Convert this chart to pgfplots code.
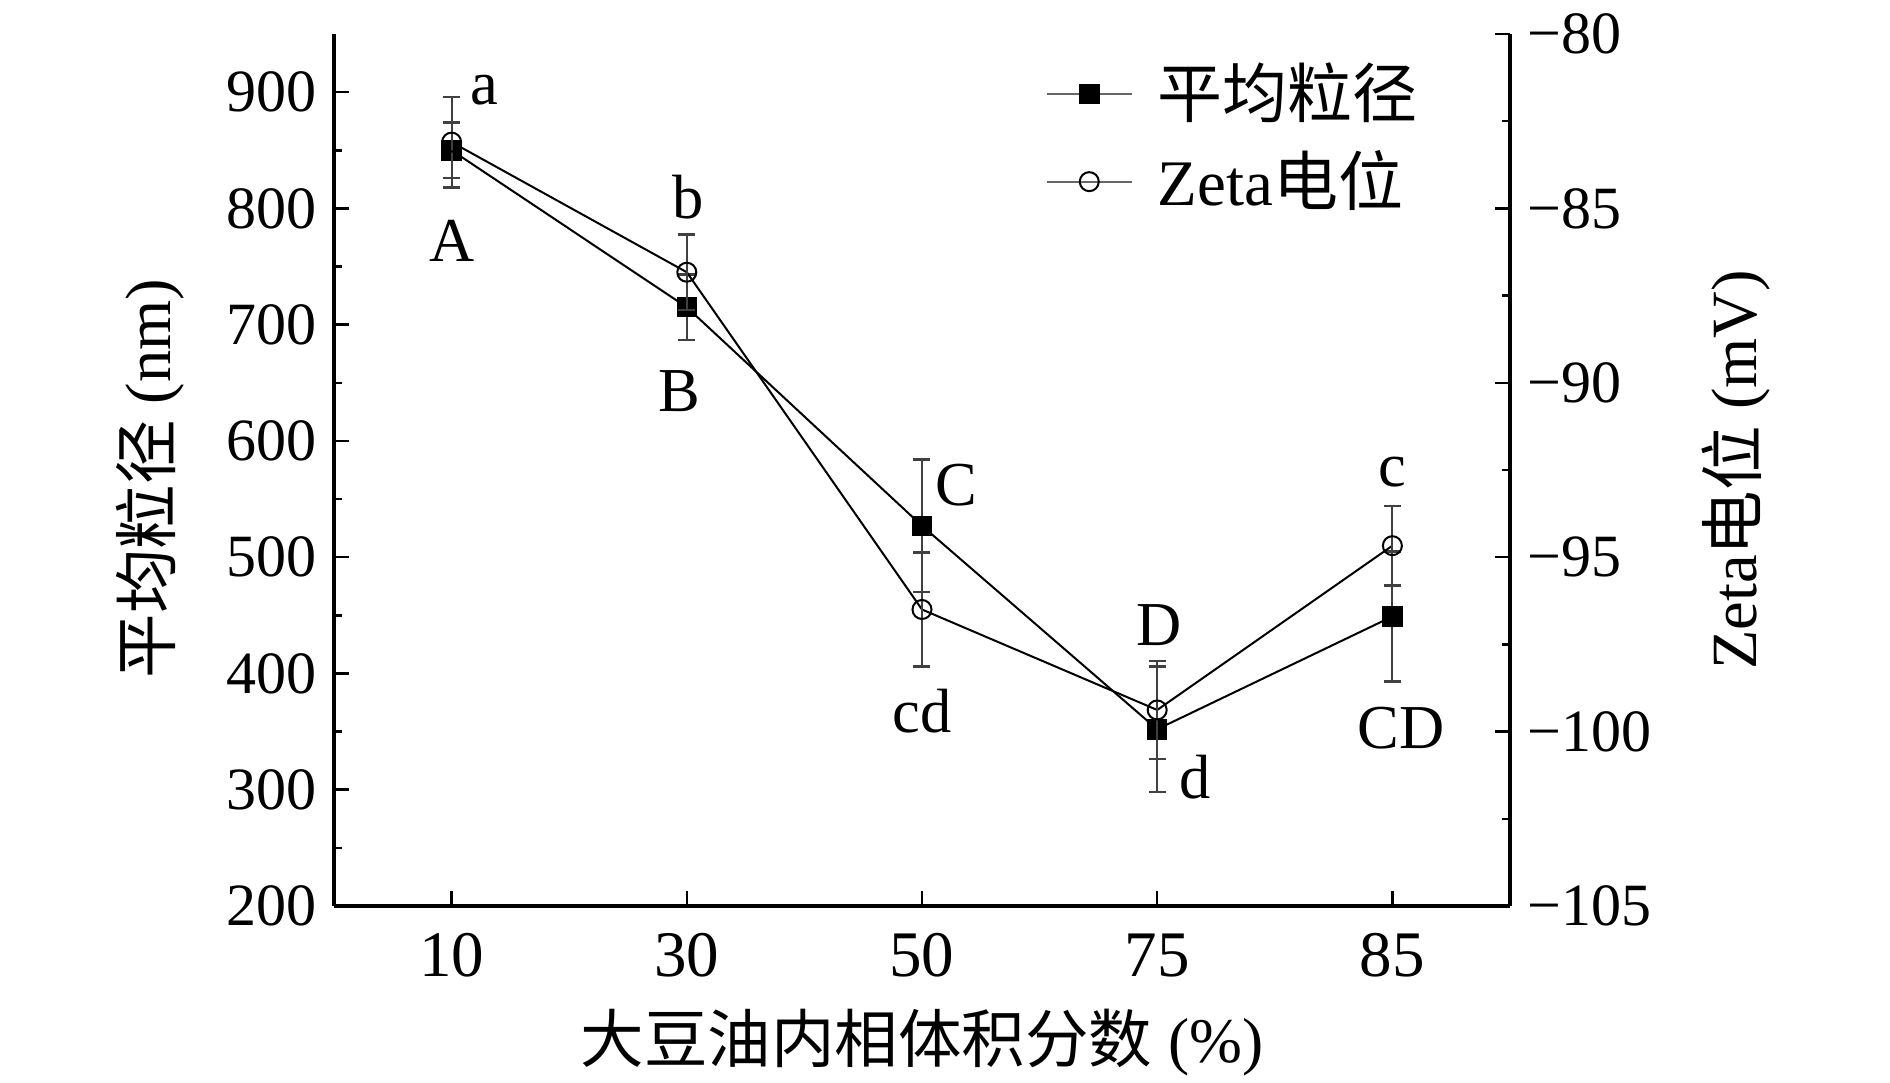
\documentclass[border=0pt]{standalone}
\usepackage{fontspec}
\setmainfont{Liberation Serif}
\newfontfamily\cjk{Noto Sans CJK SC}
\usepackage{pgfplots}
\pgfplotsset{compat=1.18}

\pgfplotstableread{
x y e
0 850 24
1 715 28
2 527 57
3 352 54
4 449 56
}\sizedata
\pgfplotstableread{
x y e
0 -83.10 1.30
1 -86.83 1.08
2 -96.50 1.64
3 -99.38 1.40
4 -94.67 1.14
}\zetadata

\newcommand{\fs}[1]{\fontsize{#1}{#1}\selectfont}

\begin{document}
\begin{tikzpicture}
\useasboundingbox (-66.8pt,-35.4pt) rectangle (311.2pt,181.2pt);
\pgfplotsset{
  common/.style={
    width=235.2pt, height=174.4pt, scale only axis,
    at={(0,0)}, anchor=south west,
    xmin=-0.5, xmax=4.5,
    tick align=inside,
    major tick length=3pt, minor tick length=1.7pt,
    axis line style={line width=0.7pt},
    every tick/.style={black, line width=0.5pt},
    /pgf/number format/assume math mode=true,
  },
  sizeplot/.style={black, line width=0.4pt, mark=square*, mark size=1.85pt, mark options={solid, fill=black}},
  zetaplot/.style={black, line width=0.4pt, mark=o, mark size=1.9pt, mark options={solid, fill=white}},
}
\begin{axis}[common,
  axis x line*=bottom, axis y line*=left,
  ymin=200, ymax=950,
  xtick={0,1,2,3,4}, xticklabels={10,30,50,75,85},
  ytick={200,300,...,900},
  minor y tick num=1,
  xticklabel style={font=\fs{13}, yshift=-2pt},
  yticklabel style={font=\fs{12}},
  xlabel={{\cjk 大豆油内相体积分数} (\%)},
  xlabel style={font=\fs{12.7}, at={(axis description cs:0.5,-0.157)}, anchor=center},
  ylabel={{\cjk 平均粒径} (nm)},
  ylabel style={font=\fs{12.9}, at={(axis description cs:-0.1565,0.49)}, anchor=center, rotate=0},
]
\addplot[sizeplot, error bars/.cd, y dir=both, y explicit,
  error bar style={line width=0.4pt, black!75},
  error mark options={line width=0.5pt, black!75, mark size=1.7pt, rotate=90}]
  table[x=x, y=y, y error=e] {\sizedata};
\node[font=\fs{12.5}] at (axis cs:0.14,902) {a};
\node[font=\fs{12.5}] at (axis cs:0,772) {A};
\node[font=\fs{12.5}] at (axis cs:1.005,810) {b};
\node[font=\fs{12.5}] at (axis cs:0.97,643) {B};
\node[font=\fs{12.5}] at (axis cs:2.148,562) {C};
\node[font=\fs{12.5}] at (axis cs:2.0,368) {cd};
\node[font=\fs{12.5}] at (axis cs:3.008,442) {D};
\node[font=\fs{12.5}] at (axis cs:3.161,311) {d};
\node[font=\fs{12.5}] at (axis cs:4.0,573) {c};
\node[font=\fs{12.5}] at (axis cs:4.036,353) {CD};
\end{axis}
\begin{axis}[common,
  axis x line=none, axis y line*=right,
  ymin=-105, ymax=-80,
  ytick={-105,-100,...,-80},
  yticklabels={−105,−100,−95,−90,−85,−80},
  minor y tick num=1,
  yticklabel style={font=\fs{12}},
  ylabel={Zeta{\cjk 电位} (mV)},
  ylabel style={font=\fs{12.9}, at={(axis description cs:1.192,0.5)}, anchor=center, rotate=0},
  legend style={draw=none, fill=none, font=\fs{13}, at={(axis description cs:0.6,0.985)}, anchor=north west, row sep=1pt, inner sep=1pt,
    nodes={inner xsep=5pt}},
  legend cell align=left,
]
\addlegendimage{sizeplot, black!60, mark options={solid, fill=black, draw=black}}
\addlegendentry{{\cjk 平均粒径}}
\addlegendimage{zetaplot, black!60, mark options={solid, fill=white, draw=black}}
\addlegendentry{Zeta{\cjk 电位}}
\addplot[zetaplot, forget plot, error bars/.cd, y dir=both, y explicit,
  error bar style={line width=0.4pt, black!75},
  error mark options={line width=0.5pt, black!75, mark size=1.7pt, rotate=90}]
  table[x=x, y=y, y error=e] {\zetadata};
\end{axis}
\end{tikzpicture}
\end{document}
